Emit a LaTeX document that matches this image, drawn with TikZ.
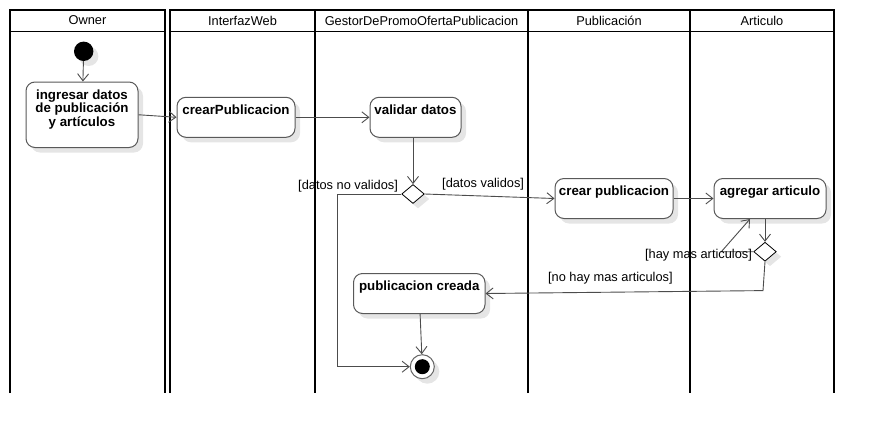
\documentclass[tikz,border=0pt]{standalone}
\usepackage{fontspec}
\setmainfont{Liberation Sans}
\usetikzlibrary{arrows.meta,shapes.geometric,shadows}

\newcommand{\cajaaccion}[3]{\parbox[t][#2][t]{#1}{\centering\rule{0pt}{17pt}#3}}

\tikzset{
  carril/.style={draw=black, line width=2pt},
  separador/.style={draw=black, line width=1.2pt},
  cabecera/.style={font=\fontsize{12.8}{14}\selectfont, inner sep=0pt},
  sombra/.style={drop shadow={shadow xshift=5pt, shadow yshift=-5pt, fill=black!10, opacity=1}},
  accion/.style={draw=black!65, line width=1pt, rounded corners=9pt, fill=white, inner sep=0pt,
    font=\bfseries\fontsize{13.3}{12.5}\selectfont, sombra},
  decision/.style={diamond, draw=black, line width=0.8pt, fill=white, inner sep=0pt,
    minimum width=22.6pt, minimum height=19pt, sombra},
  inicio/.style={circle, fill=black, inner sep=0pt, minimum size=19.4pt, sombra},
  final/.style={circle, draw=black!60, line width=1pt, fill=white, inner sep=0pt, minimum size=24pt, sombra},
  flujo/.style={draw=black!70, line width=0.9pt, -{Straight Barb[length=7pt,width=11pt]}},
  guarda/.style={font=\fontsize{12.8}{14}\selectfont, inner sep=1pt}
}

\begin{document}
\begin{tikzpicture}[x=1pt,y=-1pt]
  \useasboundingbox (0,0) rectangle (874,434);

  % carriles
  \draw[carril] (10,393) -- (10,10) -- (165,10) -- (165,393);
  \draw[carril] (170,393) -- (170,10) -- (528,10) -- (528,393);
  \draw[carril] (528,393) -- (528,10) -- (834,10) -- (834,393);
  \draw[separador] (315,10) -- (315,393);
  \draw[separador] (690,10) -- (690,393);
  \draw[line width=1pt] (10,31) -- (165,31) (170,31) -- (834,31);

  \node[cabecera] (hOwner) at (87.5,20.5) {Owner};
  \node[cabecera] (hInterfaz) at (242.5,20.5) {InterfazWeb};
  \node[cabecera] (hGestor) at (421.5,20.5) {GestorDePromoOfertaPublicacion};
  \node[cabecera] (hPublicacion) at (609,20.5) {Publicación};
  \node[cabecera] (hArticulo) at (762,20.5) {Articulo};

  % nodos
  \node[inicio] (ini) at (83.7,51.3) {};
  \node[accion] (ingresar) at (82,114.75) {\cajaaccion{112pt}{65.5pt}{ingresar datos\\de publicación\\y artículos}};
  \node[accion] (crearPub) at (236,117.3) {\cajaaccion{118pt}{40pt}{crearPublicacion}};
  \node[accion] (validar) at (415.5,117.3) {\cajaaccion{91pt}{40pt}{validar datos}};
  \node[decision] (dec1) at (413,194) {};
  \node[accion] (crearPublicacion) at (614,198.5) {\cajaaccion{118pt}{40pt}{crear publicacion}};
  \node[accion] (agregar) at (770,198.5) {\cajaaccion{112pt}{40pt}{agregar articulo}};
  \node[decision] (dec2) at (765,251.7) {};
  \node[accion] (creada) at (419.25,293.5) {\cajaaccion{131.5pt}{40pt}{publicacion creada}};
  \node[final] (fin) at (422.3,366.7) {};
  \fill (fin) circle (7.5pt);

  % flujos
  \draw[flujo] (ini) -- (ingresar);
  \draw[flujo] (ingresar.east) -- (crearPub.west);
  \draw[flujo] (crearPub.east) -- (validar.west);
  \draw[flujo] (dec1.north |- validar.south) -- (dec1.north);
  \draw[flujo] (dec1.east) -- (crearPublicacion.west) node[guarda, pos=0.45, above=4pt] (gValidos) {[datos validos]};
  \draw[flujo] (dec1.west) -- ++(-64,0) node[guarda, pos=0, anchor=south east, xshift=-2pt] (gNoValidos) {[datos no validos]} |- (fin.west);
  \draw[flujo] (crearPublicacion.east) -- (agregar.west);
  \draw[flujo] (dec2.north |- agregar.south) -- (dec2.north);
  \draw[flujo] (dec2.west) -- ++(-32,0) node[guarda, pos=0, anchor=east, yshift=-3pt] (gHayMas) {[hay mas articulos]} -- ([xshift=-20pt]agregar.south);
  \draw[flujo] (dec2.south) -- ++(-2,29) -- (creada.east) node[guarda, pos=0.55, above=7pt] (gNoHayMas) {[no hay mas articulos]};
  \draw[flujo] (creada) -- (fin);
\end{tikzpicture}
\end{document}
